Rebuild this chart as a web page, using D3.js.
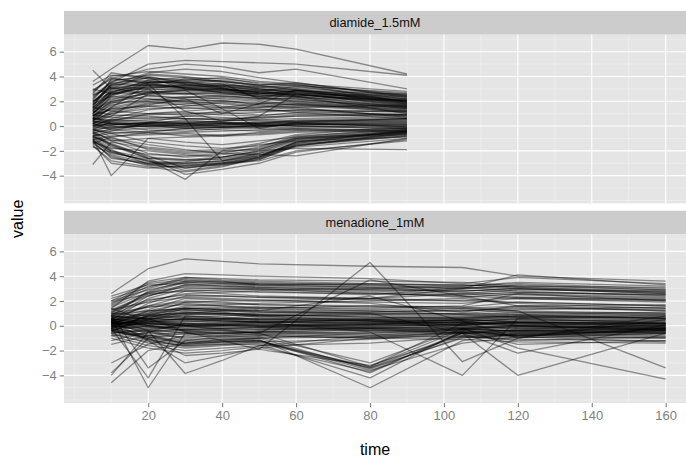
<!DOCTYPE html>
<html>
<head>
<meta charset="utf-8">
<script src="https://cdn.jsdelivr.net/npm/d3@7/dist/d3.min.js"></script>
<style>
  body { margin: 0; background: #fff; }
  svg { display: block; font-family: "Liberation Sans", Arial, sans-serif; }
</style>
</head>
<body>
<svg id="chart" width="686" height="459"></svg>
<script>
// facet names and the sampling times of each stress
const facetNames = ["diamide_1.5mM", "menadione_1mM"];
const diamideTimes = [5, 10, 20, 30, 40, 50, 60, 90];
const menadioneTimes = [10, 20, 30, 40, 50, 80, 105, 120, 160];

const xTicks = [20, 40, 60, 80, 100, 120, 140, 160];
const xMinor = [0, 10, 30, 50, 70, 90, 110, 130, 150, 170];
const yTicks = [-4, -2, 0, 2, 4, 6];
const yMinor = [-6, -5, -3, -1, 1, 3, 5, 7];

// one row per gene
const diamideValues = [
  [3.6, 4.6, 6.5, 6.2, 6.7, 6.6, 6.2, 4.2],
  [2.5, 3.5, 5.0, 5.3, 5.2, 5.1, 5.0, 4.1],
  [1.5, 3.8, 4.6, 5.0, 4.8, 4.3, 4.6, 3.0],
  [4.5, 3.0, 4.2, 4.0, 3.6, 3.3, 3.5, 2.4],
  [2.8, 4.0, 4.4, 4.2, 4.0, 3.6, 3.4, 2.8],
  [2.2, 3.6, 4.1, 3.9, 3.8, 3.5, 3.3, 2.6],
  [1.8, 3.2, 3.9, 3.7, 3.9, 3.4, 3.2, 2.2],
  [1.2, 2.9, 3.6, 3.4, 3.3, 3.1, 3.3, 2.5],
  [2.6, 4.3, 3.8, 3.5, 3.2, 2.9, 3.0, 2.0],
  [0.9, 2.4, 3.4, 3.2, 3.3, 3.0, 2.8, 1.9],
  [1.5, 2.6, 3.2, 3.0, 2.9, 2.8, 2.6, 1.7],
  [2.0, 3.0, 3.0, 2.9, 3.0, 2.7, 2.5, 2.1],
  [0.7, 1.9, 2.8, 2.8, 2.9, 2.5, 2.3, 1.5],
  [1.1, 2.2, 2.6, 2.7, 2.6, 2.4, 2.0, 1.3],
  [2.9, 3.8, 3.5, 3.6, 3.4, 2.2, 2.9, 1.8],
  [1.6, 3.4, 3.3, 3.1, 2.7, 2.5, 2.4, 1.6],
  [0.4, 1.6, 2.5, 2.6, 2.8, 2.6, 2.5, 2.4],
  [1.3, 2.7, 3.7, 3.9, 3.5, 3.0, 2.7, 2.2],
  [2.4, 3.3, 4.3, 4.6, 4.4, 3.9, 3.5, 2.3],
  [0.8, 2.0, 2.4, 2.3, 2.5, 2.2, 2.2, 1.4],
  [3.3, 4.1, 4.0, 3.4, 3.0, 2.8, 3.2, 2.7],
  [1.9, 3.1, 3.1, 3.3, 3.1, 2.3, 1.9, 1.2],
  [0.6, 1.5, 2.1, 2.4, 2.2, 2.0, 1.8, 1.1],
  [1.4, 2.5, 3.5, 3.5, 3.7, 3.3, 3.4, 1.9],
  [2.1, 3.7, 3.9, 3.0, 2.8, 2.6, 2.8, 2.0],
  [1.0, 2.3, 2.9, 3.1, 3.2, 2.9, 2.4, 1.0],
  [0.3, 1.2, 1.9, 2.1, 2.3, 2.1, 2.1, 1.6],
  [1.7, 2.8, 3.3, 3.8, 3.6, 3.2, 3.0, 2.4],
  [3.0, 2.6, 2.7, 2.9, 2.7, 2.4, 2.6, 1.8],
  [0.5, 1.0, 1.6, 1.8, 2.0, 1.9, 1.7, 1.3],
  [1.9, 3.3, 3.6, 3.5, 3.4, 3.1, 2.9, 2.3],
  [2.3, 3.5, 3.7, 3.3, 3.2, 3.0, 2.7, 2.1],
  [1.2, 2.6, 3.1, 3.2, 3.0, 2.8, 2.7, 1.8],
  [0.8, 2.1, 3.0, 3.3, 3.1, 2.7, 2.5, 2.0],
  [2.7, 3.9, 3.4, 3.1, 3.0, 2.6, 2.4, 1.5],
  [1.4, 3.0, 3.5, 3.0, 2.7, 2.6, 2.9, 2.2],
  [0.6, 1.8, 2.7, 3.0, 3.0, 2.7, 2.6, 1.7],
  [1.7, 3.4, 3.9, 3.6, 3.1, 2.9, 2.8, 2.6],
  [2.0, 2.7, 2.8, 2.6, 2.4, 2.3, 2.2, 1.4],
  [1.0, 2.5, 3.2, 3.4, 3.3, 3.2, 3.1, 2.5],
  [1.3, 2.0, 2.7, 2.6, 2.6, 2.4, 2.4, 2.1],
  [2.0, 3.2, 3.3, 3.1, 2.9, 2.7, 2.6, 2.5],
  [1.0, 2.7, 3.5, 3.7, 3.6, 3.3, 2.9, 2.1],
  [2.5, 3.1, 2.5, 2.2, 2.0, 1.8, 2.0, 1.5],
  [0.6, 1.4, 2.0, 2.3, 2.4, 2.2, 2.3, 2.0],
  [0.8, 1.7, 2.2, 2.0, 1.8, 1.5, 1.6, 1.2],
  [1.1, 1.9, 2.0, 1.7, 1.5, 1.3, 1.2, 0.9],
  [0.2, 1.0, 1.4, 1.5, 1.3, 1.2, 1.3, 1.1],
  [-0.3, 0.4, 1.0, 1.2, 1.4, 1.5, 1.8, 1.5],
  [0.5, 1.1, 1.8, 2.0, 2.1, 1.7, 1.5, 0.7],
  [1.8, 2.4, 2.2, 1.9, 1.6, 1.4, 1.1, 0.6],
  [0.0, 0.5, 0.9, 1.0, 1.1, 0.9, 1.0, 0.9],
  [-0.8, -0.4, 0.3, 0.8, 1.0, 1.1, 1.3, 1.2],
  [1.5, 2.8, 3.0, 1.2, 0.4, 0.8, 2.6, 1.6],
  [0.2, 0.8, 2.6, 2.9, 1.4, -0.2, 0.3, 0.6],
  [0.9, 1.3, 1.7, 2.2, 1.0, 1.8, 2.9, 1.9],
  [0.4, 1.5, 3.4, 0.6, -2.8, -2.2, -1.6, -0.5],
  [0.3, 0.2, 0.1, 0.0, 0.1, 0.2, 0.1, 0.3],
  [-0.2, 0.1, 0.3, 0.2, 0.0, -0.1, 0.2, 0.0],
  [0.6, 0.5, 0.4, 0.3, 0.4, 0.5, 0.6, 0.8],
  [-0.5, -0.3, -0.2, -0.1, 0.0, 0.1, 0.0, -0.2],
  [0.1, 0.0, -0.3, -0.4, -0.2, -0.1, 0.1, 0.2],
  [0.9, 0.7, 0.6, 0.8, 0.7, 0.5, 0.4, 0.5],
  [-0.8, -0.6, -0.4, -0.2, -0.3, -0.4, -0.2, -0.4],
  [0.4, 0.3, 0.2, 0.4, 0.3, 0.1, 0.0, 0.1],
  [0.0, -0.1, 0.0, 0.1, 0.2, 0.3, 0.4, 0.6],
  [1.2, 0.9, 0.8, 0.6, 0.5, 0.7, 0.9, 1.0],
  [-0.3, -0.5, -0.6, -0.5, -0.4, -0.3, -0.1, 0.1],
  [0.2, 0.4, 0.5, 0.6, 0.5, 0.4, 0.3, -0.1],
  [-1.1, -0.8, -0.7, -0.6, -0.8, -0.5, -0.3, -0.5],
  [0.7, 0.2, -0.1, 0.0, 0.2, 0.0, 0.2, 0.4],
  [-0.1, 0.3, 0.1, -0.2, -0.1, 0.0, -0.2, 0.0],
  [0.5, 0.8, 1.0, 1.1, 0.9, 0.8, 1.1, 1.2],
  [-0.6, -0.2, 0.2, 0.5, 0.3, 0.2, 0.5, 0.7],
  [0.2, -0.3, -0.5, -0.8, -0.7, -0.6, -0.4, -0.2],
  [1.5, 1.2, 1.0, 0.9, 1.2, 1.3, 1.5, 1.7],
  [-0.4, 0.0, 0.0, 0.2, 0.4, 0.6, 0.8, 0.9],
  [0.8, 1.4, 1.6, 1.4, 1.5, 1.8, 1.7, 1.4],
  [0.0, 0.6, 1.3, 1.6, 1.9, 1.6, 1.4, 0.8],
  [0.1, 0.1, 0.2, 0.1, 0.0, 0.0, 0.1, 0.2],
  [-0.1, -0.2, 0.0, 0.1, 0.1, 0.2, 0.3, 0.4],
  [0.4, 0.2, 0.0, -0.1, -0.1, 0.0, 0.2, 0.3],
  [0.2, 0.1, 0.3, 0.2, 0.2, 0.3, 0.2, 0.1],
  [-0.3, -0.1, 0.1, 0.3, 0.2, 0.1, 0.3, 0.5],
  [0.6, 0.4, 0.3, 0.2, 0.3, 0.2, 0.4, 0.6],
  [0.0, 0.2, 0.2, 0.0, -0.1, 0.1, 0.0, -0.1],
  [0.3, 0.5, 0.7, 0.6, 0.6, 0.7, 0.8, 0.9],
  [-1.4, -0.9, -0.5, -0.2, -0.1, -0.2, -0.3, -0.2],
  [-0.9, -1.2, -1.0, -0.9, -0.8, -0.7, -0.5, -0.3],
  [-0.6, -1.6, -2.6, -2.8, -2.6, -2.2, -1.2, -0.4],
  [-1.0, -2.0, -2.9, -3.1, -2.9, -2.5, -1.4, -0.6],
  [-0.8, -1.9, -3.1, -3.0, -2.8, -2.4, -1.3, -0.3],
  [-1.4, -2.4, -3.2, -3.3, -3.1, -2.6, -1.5, -0.7],
  [-0.4, -1.2, -2.2, -2.5, -2.3, -1.9, -1.0, -0.2],
  [-1.2, -2.6, -3.0, -2.9, -2.5, -2.1, -1.1, -0.5],
  [-1.7, -2.1, -2.8, -3.6, -3.2, -2.7, -1.6, -0.8],
  [-0.2, -0.9, -1.9, -2.2, -2.1, -1.8, -0.9, -0.1],
  [-0.9, -1.4, -2.5, -2.7, -2.7, -2.3, -1.7, -1.0],
  [-1.5, -3.0, -3.4, -3.2, -3.0, -2.8, -2.0, -1.2],
  [-0.7, -1.7, -2.3, -2.4, -2.2, -1.7, -0.8, -0.3],
  [-1.1, -2.2, -2.7, -4.3, -2.0, -1.5, -1.2, -0.9],
  [-0.5, -1.1, -1.7, -2.0, -1.9, -1.4, -0.7, 0.0],
  [-1.3, -1.8, -2.0, -2.3, -2.5, -2.0, -1.8, -1.9],
  [-1.6, -2.8, -3.3, -3.7, -3.3, -2.5, -1.3, -0.4],
  [-0.3, -0.6, -1.3, -1.6, -1.8, -1.6, -1.0, -0.4],
  [-3.1, -1.3, -1.8, -2.1, -2.0, -1.9, -1.0, -0.7],
  [-1.0, -4.0, -1.0, -1.3, -1.5, -1.2, -0.9, -0.6],
  [-0.8, -1.5, -2.4, -3.4, -3.0, -2.6, -1.5, -0.8],
  [-1.2, -2.0, -2.6, -3.9, -3.5, -3.0, -2.1, -1.1],
  [-0.6, -1.0, -1.5, -1.9, -2.2, -2.3, -2.4, -1.0],
  [-0.9, -2.1, -2.8, -3.0, -2.8, -2.4, -1.3, -0.5],
  [-1.1, -2.3, -3.0, -3.2, -3.0, -2.5, -1.4, -0.4],
  [-0.5, -1.5, -2.6, -2.7, -2.5, -2.0, -1.1, -0.3],
  [-1.3, -2.5, -3.1, -3.4, -3.1, -2.7, -1.6, -0.6]
];

const menadioneValues = [
  [2.6, 4.6, 5.4, 5.2, 5.0, 4.8, 4.7, 4.0, 3.6],
  [1.4, 3.6, 4.2, 4.1, 4.0, 3.8, 3.4, 3.9, 3.4],
  [2.2, 3.1, 3.9, 3.8, 3.7, 3.6, 3.5, 3.2, 3.1],
  [0.8, 2.8, 3.6, 3.6, 3.5, 3.3, 3.0, 3.3, 2.9],
  [1.8, 3.4, 3.7, 3.5, 3.4, 3.2, 3.1, 3.0, 2.6],
  [1.0, 2.6, 3.3, 3.3, 3.2, 3.0, 2.9, 2.7, 2.5],
  [2.0, 2.9, 3.5, 3.4, 3.3, 3.4, 3.2, 3.5, 3.2],
  [0.5, 2.2, 3.0, 3.0, 3.0, 2.8, 2.6, 2.9, 2.8],
  [1.6, 3.0, 3.8, 3.6, 3.3, 3.1, 2.7, 2.5, 2.2],
  [0.3, 1.8, 2.8, 2.9, 2.9, 3.0, 3.2, 3.4, 3.0],
  [1.2, 2.4, 3.2, 3.1, 3.0, 2.6, 2.4, 2.2, 2.0],
  [2.4, 3.3, 3.4, 3.2, 3.1, 2.9, 2.8, 3.0, 2.7],
  [0.9, 2.0, 2.6, 2.7, 2.8, 2.5, 3.1, 2.8, 2.4],
  [1.5, 2.7, 3.1, 3.0, 2.9, 2.7, 2.3, 2.6, 2.3],
  [1.7, 3.2, 3.6, 3.5, 3.4, 3.3, 3.3, 3.1, 2.8],
  [1.1, 2.7, 3.5, 3.4, 3.3, 3.1, 3.0, 3.2, 2.9],
  [2.0, 3.5, 3.9, 3.7, 3.6, 3.4, 3.3, 3.1, 2.7],
  [0.7, 2.4, 3.3, 3.2, 3.1, 2.9, 2.8, 3.0, 2.6],
  [1.3, 2.5, 2.9, 2.8, 2.7, 2.6, 2.5, 2.7, 2.5],
  [1.9, 2.6, 2.8, 2.6, 2.4, 2.2, 2.0, 1.9, 1.6],
  [0.6, 1.6, 2.4, 2.4, 2.3, 2.1, 2.0, 2.3, 2.1],
  [0.7, 1.5, 1.9, 2.0, 2.0, 2.2, 2.6, 2.3, 2.1],
  [0.6, 1.3, 2.2, 2.1, 2.0, 1.9, 1.8, 2.2, 1.9],
  [0.2, 1.0, 1.9, 1.8, 1.7, 1.6, 1.5, 1.9, 1.6],
  [1.0, 1.5, 1.7, 1.6, 1.5, 1.4, 1.6, 2.6, 2.0],
  [-0.2, 0.8, 1.5, 1.5, 1.3, 1.2, 1.2, 1.4, 1.3],
  [0.8, 1.6, 2.0, 1.9, 1.7, 1.5, 1.4, 1.2, 1.0],
  [0.4, 1.1, 1.4, 1.3, 1.2, 1.0, 1.0, 1.3, 1.5],
  [0.0, 0.7, 1.2, 1.2, 1.1, 0.9, 0.8, 1.0, 0.8],
  [1.3, 1.9, 2.3, 2.2, 2.1, 1.8, 1.1, 1.6, 1.7],
  [-0.4, 0.5, 1.1, 1.0, 1.0, 1.1, 1.3, 1.1, 0.9],
  [0.5, 0.9, 1.6, 1.7, 1.8, 2.0, 2.2, 1.8, 1.4],
  [0.1, 1.2, 1.8, 1.6, 1.4, 1.2, 0.9, 0.7, 0.6],
  [0.7, 0.6, 0.9, 1.0, 0.9, 0.8, 0.7, 0.9, 1.1],
  [0.4, 0.9, 1.3, 1.2, 1.1, 1.0, 0.9, 1.1, 1.0],
  [0.3, 0.7, 1.0, 1.0, 0.9, 0.7, 0.6, 0.8, 0.7],
  [0.3, 0.8, 1.1, 1.0, 0.8, 0.6, 0.7, 0.8, 0.6],
  [0.9, 1.2, 1.4, 1.3, 1.2, 1.1, 1.2, 1.5, 1.2],
  [0.2, 0.5, 0.9, 0.9, 0.8, 0.9, 1.0, 0.9, 0.6],
  [0.0, 0.6, 1.4, 1.4, 1.5, 1.3, 1.4, 1.6, 1.4],
  [0.2, 0.3, 0.4, 0.3, 0.2, 0.3, 0.4, 0.5, 0.3],
  [-0.3, 0.0, 0.1, 0.2, 0.1, 0.0, 0.1, 0.2, 0.0],
  [0.5, 0.4, 0.2, 0.1, 0.0, 0.2, 0.3, 0.1, -0.1],
  [-0.1, -0.2, -0.1, 0.0, 0.1, 0.1, 0.0, -0.2, -0.3],
  [0.8, 0.6, 0.5, 0.6, 0.5, 0.6, 0.5, 0.7, 0.6],
  [0.0, 0.2, 0.0, -0.2, -0.1, 0.1, 0.2, 0.0, 0.2],
  [-0.6, -0.4, -0.3, -0.2, -0.3, -0.1, 0.1, 0.3, 0.4],
  [0.3, -0.1, -0.4, -0.3, -0.2, -0.4, -0.3, -0.1, 0.0],
  [1.0, 0.8, 0.7, 0.8, 0.9, 0.7, 0.6, 0.8, 0.9],
  [-0.8, -0.6, -0.7, -0.6, -0.5, -0.6, -0.4, -0.5, -0.6],
  [0.4, 0.1, 0.3, 0.5, 0.6, 0.4, 0.2, 0.4, 0.5],
  [-0.4, -0.8, -0.9, -0.8, -0.7, -0.5, -0.2, -0.4, -0.2],
  [0.1, 0.5, 0.8, 0.7, 0.5, 0.4, 0.3, 0.6, 0.7],
  [-0.2, 0.3, 0.6, 0.4, 0.3, 0.5, 0.0, -0.3, -0.5],
  [0.6, 0.0, -0.2, 0.0, 0.2, -0.2, -0.5, -0.6, -0.8],
  [-1.2, -0.5, -0.3, -0.4, -0.6, -0.8, -0.7, -0.9, -1.0],
  [1.4, 0.4, 0.1, 0.2, 0.3, 0.1, 0.5, 0.3, 0.1],
  [-0.5, 0.9, 1.0, 0.9, 0.7, 0.5, 0.4, 0.0, -0.4],
  [0.2, -0.3, -0.6, -0.9, -0.8, -1.0, -1.1, -1.3, -1.4],
  [0.1, 0.4, 0.6, 0.5, 0.5, 0.4, 0.5, 0.6, 0.5],
  [0.5, 0.6, 0.7, 0.6, 0.6, 0.5, 0.4, 0.5, 0.4],
  [-0.1, 0.2, 0.4, 0.4, 0.3, 0.2, 0.1, 0.3, 0.2],
  [0.2, 0.1, 0.2, 0.3, 0.4, 0.3, 0.2, 0.2, 0.1],
  [0.0, -0.1, 0.0, 0.1, 0.0, -0.1, -0.2, 0.1, 0.3],
  [0.6, 0.3, 0.1, 0.0, -0.1, 0.0, 0.1, -0.1, -0.2],
  [-0.3, -0.5, -0.5, -0.4, -0.3, -0.2, -0.1, -0.2, -0.1],
  [0.8, 0.5, 0.5, 0.4, 0.3, 0.2, 0.3, 0.3, 0.2],
  [-0.6, -0.3, 0.0, 0.0, -0.1, -0.2, -0.3, -0.4, -0.3],
  [0.3, 0.2, 0.0, 0.1, 0.3, 0.5, 0.6, 0.7, 0.8],
  [-1.5, -0.8, -0.5, -0.6, -0.7, -0.9, -0.9, -1.1, -1.2],
  [0.4, 0.0, -0.4, -0.6, -0.5, -0.7, -0.6, -0.5, -0.4],
  [-0.4, -1.2, -1.6, -1.5, -1.3, -1.1, -0.6, -0.8, -0.3],
  [-0.8, -1.6, -2.0, -1.8, -1.6, -1.4, -0.9, -1.0, -0.6],
  [0.0, -0.9, -1.3, -1.2, -1.0, -0.9, -0.5, -1.5, -1.2],
  [-0.2, -1.0, -2.4, -2.2, -1.9, -3.2, -0.8, -1.2, -0.9],
  [-0.6, -1.4, -1.8, -1.6, -1.4, -3.4, -1.0, -0.7, -0.4],
  [0.3, -0.7, -1.5, -1.3, -1.2, -3.6, -1.4, -0.9, -0.2],
  [-1.0, -1.8, -2.2, -2.0, -1.7, -3.7, -0.6, -0.3, 0.1],
  [0.1, -0.5, -1.1, -1.0, -0.9, -3.0, -0.2, -0.5, -0.3],
  [-0.3, -1.1, -1.7, -1.5, -1.5, -4.2, -0.4, -0.8, -0.7],
  [-0.5, -0.9, -1.4, -1.2, -1.1, -5.0, -1.2, -0.6, -0.5],
  [0.5, -0.4, -1.0, -0.8, -0.6, -3.3, 0.2, 0.0, -0.1],
  [-0.4, -1.0, -1.4, -1.3, -1.2, -3.4, -0.6, -0.6, -0.4],
  [-0.1, -0.8, -1.2, -1.1, -1.0, -3.5, -0.9, -0.8, -0.5],
  [-0.7, -1.3, -1.6, -1.4, -1.3, -3.3, -0.3, -0.4, -0.2],
  [-0.2, -1.1, -1.5, -1.3, -1.2, -3.8, -0.5, -0.7, -0.6],
  [-4.6, -2.0, -1.4, -1.1, -1.0, -0.6, -0.3, -0.9, -1.3],
  [-3.8, -1.0, -0.6, -0.5, -0.4, -0.2, 0.0, 0.3, 0.2],
  [-3.0, -1.5, -0.8, -0.6, -0.5, -0.3, -0.2, 0.0, -0.2],
  [-4.0, -0.5, 0.2, 0.1, 0.0, 0.1, 0.3, 0.2, 0.0],
  [0.6, -5.0, -0.6, -0.7, -0.5, -0.4, -0.6, -0.8, -1.0],
  [-0.2, -4.2, 0.8, 0.6, 0.4, 0.3, 0.5, 0.3, 0.2],
  [0.9, -3.4, -1.2, -0.9, -0.8, -1.0, -0.8, -0.7, -0.9],
  [0.4, -1.2, -3.0, -2.4, -1.8, -1.0, -0.5, -0.4, -0.6],
  [0.0, -0.4, -3.85, -2.8, -1.6, -0.8, -0.3, 0.0, -0.3],
  [0.3, 0.6, -0.5, -1.2, -1.9, 5.1, -2.9, -1.0, 0.5],
  [0.5, 0.2, 0.0, -0.3, -0.6, 3.7, 2.4, 1.6, 1.2],
  [0.2, 0.4, 0.6, 0.5, 0.3, -0.5, -4.0, 0.6, 0.2],
  [0.1, 0.3, 0.5, 0.6, 0.8, 1.0, -0.6, -4.0, -0.6],
  [-0.1, 0.8, 1.0, 1.2, 1.4, 1.6, 1.5, 1.2, -3.4],
  [0.6, 1.0, 1.3, 1.1, 0.8, 0.4, -0.2, -1.8, -4.3],
  [0.2, 0.0, -0.3, -0.2, -0.1, -0.3, -0.6, -2.2, 0.1],
  [0.4, 1.2, 1.4, 1.3, 1.2, 2.4, 0.4, -1.0, 0.8],
  [1.1, 2.1, 2.5, 2.4, 2.3, 2.2, 3.0, 4.1, 3.3]
];

const panels = [
  { name: facetNames[0], times: diamideTimes, values: diamideValues },
  { name: facetNames[1], times: menadioneTimes, values: menadioneValues }
];

const width = 686, height = 459;
const panelLeft = 64, panelRight = 686;
const stripH = 23.7, panelH = 168.6;
const panelTops = [34.7, 234.4];

const svg = d3.select("#chart");

svg.append("rect").attr("width", width).attr("height", height).attr("fill", "#fff");

const x = d3.scaleLinear().domain([0, 160]).range([74.3, 665.7]);

const line = d3.line()
  .x(d => x(d[0]))
  .y(d => d[1]);

panels.forEach((p, i) => {
  const top = panelTops[i];
  const y = d3.scaleLinear().domain([-6.23, 7.37]).range([top + panelH, top]);

  // strip
  svg.append("rect")
    .attr("x", panelLeft).attr("y", top - stripH)
    .attr("width", panelRight - panelLeft).attr("height", stripH)
    .attr("fill", "#CCCCCC");
  svg.append("text")
    .attr("x", (panelLeft + panelRight) / 2).attr("y", top - stripH / 2)
    .attr("dy", "0.35em")
    .attr("text-anchor", "middle")
    .attr("font-size", 12.8)
    .attr("fill", "#111")
    .text(p.name);

  // panel background and grid
  const g = svg.append("g");
  g.append("rect")
    .attr("x", panelLeft).attr("y", top)
    .attr("width", panelRight - panelLeft).attr("height", panelH)
    .attr("fill", "#E5E5E5");

  g.selectAll(".ymin").data(yMinor).join("line")
    .attr("x1", panelLeft).attr("x2", panelRight)
    .attr("y1", d => y(d)).attr("y2", d => y(d))
    .attr("stroke", "#F2F2F2").attr("stroke-width", 0.55);
  g.selectAll(".xmin").data(xMinor).join("line")
    .attr("y1", top).attr("y2", top + panelH)
    .attr("x1", d => x(d)).attr("x2", d => x(d))
    .attr("stroke", "#F2F2F2").attr("stroke-width", 0.55);
  g.selectAll(".ymaj").data(yTicks).join("line")
    .attr("x1", panelLeft).attr("x2", panelRight)
    .attr("y1", d => y(d)).attr("y2", d => y(d))
    .attr("stroke", "#fff").attr("stroke-width", 1.07);
  g.selectAll(".xmaj").data(xTicks).join("line")
    .attr("y1", top).attr("y2", top + panelH)
    .attr("x1", d => x(d)).attr("x2", d => x(d))
    .attr("stroke", "#fff").attr("stroke-width", 1.07);

  // gene profiles
  g.append("g")
    .selectAll("path")
    .data(p.values)
    .join("path")
    .attr("d", vals => line(vals.map((v, k) => [p.times[k], y(v)])))
    .attr("fill", "none")
    .attr("stroke", "#000")
    .attr("stroke-opacity", 0.42)
    .attr("stroke-width", 1.3)
    .attr("stroke-linejoin", "round");

  // y axis
  const yAxis = d3.axisLeft(y)
    .tickValues(yTicks)
    .tickSize(4.3)
    .tickPadding(3)
    .tickFormat(d => d < 0 ? "\u2212" + Math.abs(d) : d);
  const ya = svg.append("g")
    .attr("transform", `translate(${panelLeft},0)`)
    .call(yAxis);
  ya.select(".domain").remove();
  ya.selectAll("line").attr("stroke", "#7F7F7F").attr("stroke-width", 1.07);
  ya.selectAll("text")
    .attr("fill", "#7F7F7F")
    .attr("font-size", 13)
    .attr("font-family", "Liberation Sans, Arial, sans-serif");
});

// x axis under bottom panel
const bottom = panelTops[1] + panelH;
const xa = svg.append("g")
  .attr("transform", `translate(0,${bottom})`)
  .call(d3.axisBottom(x).tickValues(xTicks).tickSize(4.3).tickPadding(3));
xa.select(".domain").remove();
xa.selectAll("line").attr("stroke", "#7F7F7F").attr("stroke-width", 1.07);
xa.selectAll("text")
  .attr("fill", "#7F7F7F")
  .attr("font-size", 13)
  .attr("font-family", "Liberation Sans, Arial, sans-serif");

// axis titles
svg.append("text")
  .attr("x", (panelLeft + panelRight) / 2).attr("y", 449)
  .attr("dy", "0.35em")
  .attr("text-anchor", "middle")
  .attr("font-size", 16)
  .text("time");

svg.append("text")
  .attr("transform", `translate(17,${(panelTops[0] + bottom) / 2}) rotate(-90)`)
  .attr("dy", "0.35em")
  .attr("text-anchor", "middle")
  .attr("font-size", 16)
  .text("value");
</script>
</body>
</html>
